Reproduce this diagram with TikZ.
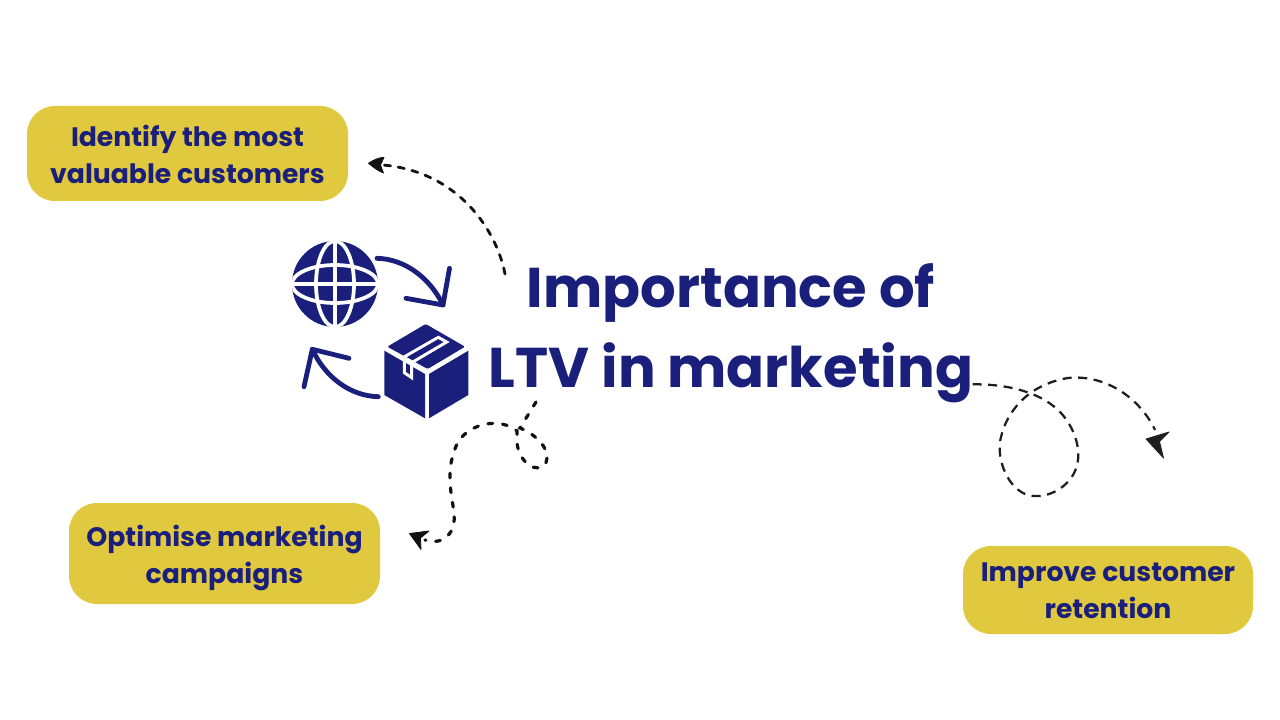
\documentclass[tikz,border=0pt]{standalone}
\usepackage{fontspec}
\setmainfont{Poppins}[BoldFont={Poppins Bold}]
\definecolor{navy}{HTML}{1A1F7C}
\definecolor{mustard}{HTML}{E0C83F}
\definecolor{inkdash}{HTML}{111111}
\definecolor{inksoft}{HTML}{1E1E1E}
\tikzset{
  pill/.style={fill=mustard,rounded corners=21pt,inner sep=0pt},
  pilltext/.style={inner sep=0pt,align=center,text=navy,font=\fontsize{20}{27.75}\selectfont\bfseries},
  headline/.style={inner sep=0pt,align=center,text=navy,font=\fontsize{42}{60}\selectfont\bfseries},
  dashline/.style={draw=inkdash,line width=2.1pt,line cap=round,dash pattern=on 4.7pt off 5.8pt},
  dashshort/.style={draw=inkdash,line width=2.4pt,line cap=round,dash pattern=on 3.6pt off 7.4pt},
  dashthin/.style={draw=inksoft,line width=1.7pt,dash pattern=on 6.8pt off 4.9pt},
  iconarrow/.style={draw=navy,line width=3.6pt,line cap=round,line join=round},
  headfill/.style={fill=inkdash,draw=inkdash,line width=.6pt,line join=round},
  globeline/.style={draw=white,line width=2.8pt},
  tape/.style={draw=white,line width=2.2pt,line join=miter}
}
\begin{document}
\begin{tikzpicture}[x=0.75pt,y=-0.75pt]
\useasboundingbox (0,0) rectangle (1280,720);
% pills
\node[pill,minimum width=240.75pt,minimum height=71.25pt] (valuable) at (187.5,153.5) {};
\node[pilltext] (valuabletext) at (187.5,154.8) {Identify the most\\valuable customers};
\node[pill,minimum width=233.25pt,minimum height=75.75pt] (campaigns) at (224.5,553.5) {};
\node[pilltext] (campaignstext) at (224.5,557.7) {Optimise marketing\\campaigns};
\node[pill,minimum width=217.5pt,minimum height=66pt] (retention) at (1108,590) {};
\node[pilltext] (retentiontext) at (1108,591.2) {Improve customer\\retention};
% title
\node[headline] (title) at (731,333) {Importance of\\LTV in marketing};
% globe
\node[circle,fill=navy,minimum size=64.5pt,inner sep=0pt] (globe) at (335,284) {};
\begin{scope}
\clip (335,284) circle (43);
\draw[globeline] (335,284) ellipse (19 and 43);
\draw[globeline] (335,284) ellipse (43 and 19);
\draw[globeline] (335,240) -- (335,328);
\draw[globeline] (291,284) -- (379,284);
\end{scope}
% package
\fill[navy,rounded corners=1pt] (425.7,324) -- (465,346.7) -- (427.7,369) -- (387.3,346.7) -- cycle;
\fill[navy] (384.3,350.7) -- (425,374) -- (425,418.3) -- (384.3,395) -- cycle;
\fill[navy] (429,374) -- (468.3,350.7) -- (468.3,395) -- (429,418.3) -- cycle;
\draw[tape] (402.7,357.7) -- (438.3,337.3) -- (446.7,342) -- (413.3,361.7);
\draw[tape] (404.3,356.7) -- (404.3,372.7) -- (411.7,377.7) -- (411.7,361.7) -- (404.3,357.7);
% icon arrows
\coordinate (globeout) at (377,258.3);
\coordinate (boxin) at (443,305);
\coordinate (boxout) at (378.3,396.7);
\coordinate (globein) at (312.3,349.3);
\draw[iconarrow] (globeout) .. controls (405,259) and (430,278) .. (boxin);
\draw[iconarrow] (449.5,268.3) -- (boxin) -- (406,298.3);
\draw[iconarrow] (boxout) .. controls (350,396) and (325,377) .. (globein);
\draw[iconarrow] (304,386.7) -- (globein) -- (349,358.3);
% connector: title to top-left pill
\coordinate (a0) at (505,274);
\coordinate (a1) at (383,165);
\draw[dashline] (a0) .. controls (497,232) and (460,172) .. (a1);
\fill[headfill] (368.5,163.3) .. controls (373,160) and (379,157.5) .. (384,157.3) -- (380.5,165) -- (383.5,173) .. controls (378,171) and (373,167) .. cycle;
% connector: title to bottom-left pill
\coordinate (b0) at (536,402);
\coordinate (b1) at (425,540);
\draw[dashshort] (b0) -- (520,428) .. controls (537,435) and (548,448) .. (547,458)
  .. controls (546,472) and (530,470) .. (523,459)
  .. controls (514,445) and (518,438) .. (517,431)
  .. controls (500,417) and (470,423) .. (458,442)
  .. controls (444,470) and (452,495) .. (454,513)
  .. controls (456,532) and (445,546) .. (b1);
\fill[headfill] (409.5,533.5) -- (429,531) -- (420.5,538) -- (421,549.5) -- cycle;
% connector: title to retention
\coordinate (c0) at (972.5,384.3);
\coordinate (c1) at (1155,430);
\draw[dashthin] (c0) .. controls (1010,384) and (1040,393) .. (1058,410)
  .. controls (1075,426) and (1085,455) .. (1073,475)
  .. controls (1062,493) and (1040,500) .. (1025,494)
  .. controls (1005,485) and (996,455) .. (1001,437)
  .. controls (1006,415) and (1025,385) .. (1068,378)
  .. controls (1105,374) and (1140,398) .. (c1);
\fill[headfill,fill=inksoft,draw=inksoft] (1163.5,458) -- (1146,439) -- (1169,432) -- (1159.5,441.5) -- cycle;
\end{tikzpicture}
\end{document}
